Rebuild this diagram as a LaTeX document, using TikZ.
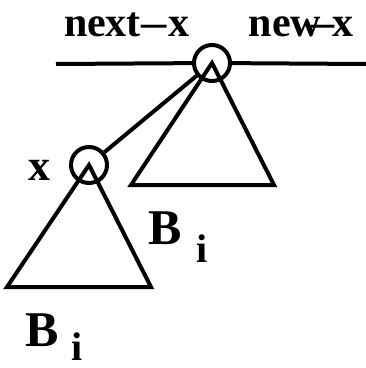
\documentclass[tikz,border=0pt]{standalone}
\usepackage{fontspec}
\setmainfont{Liberation Serif}
\begin{document}
\begin{tikzpicture}[x=1pt, y=1pt, line width=4pt,
    knot/.style={draw, circle, minimum size=36pt, inner sep=0pt},
    lbl/.style={font=\bfseries\fontsize{42}{42}\selectfont, inner sep=0pt, anchor=base west},
    big/.style={font=\bfseries\fontsize{50}{50}\selectfont, inner sep=0pt, anchor=base west}]

    \useasboundingbox (0,0) rectangle (366,368);

    % Wurzelliste
    \coordinate (lft) at (56,304);
    \coordinate (rgt) at (366,304);
    \node[knot] (root) at (212,305) {};
    \node[knot] (x) at (89,203) {};

    \draw (lft) -- (root);
    \draw (root) -- (rgt);
    \draw (x) -- (root);

    % Baeume
    \draw (root.center) -- ++(-81,-122) -- ++(143,0) -- cycle;
    \draw (x.center) -- ++(-82,-122) -- ++(144,0) -- cycle;

    % Beschriftung
    \node[lbl] (nx) at (62,332) {next\kern1pt\scalebox{1.2}[1]{--}\kern1pt x};
    \node[lbl] (nw) at (247,332) {new\kern-10pt\scalebox{1.1}[1]{--}\kern-2pt x};
    \node[lbl, font=\bfseries\fontsize{44}{44}\selectfont] (xl) at (27,188) {x};
    \node[big] (b1) at (23,22) {B\hspace{13pt}\raisebox{-15pt}{\fontsize{40}{40}\selectfont i}};
    \node[big] (b2) at (147,124) {B\hspace{14pt}\raisebox{-18pt}{\fontsize{40}{40}\selectfont i}};

\end{tikzpicture}
\end{document}
